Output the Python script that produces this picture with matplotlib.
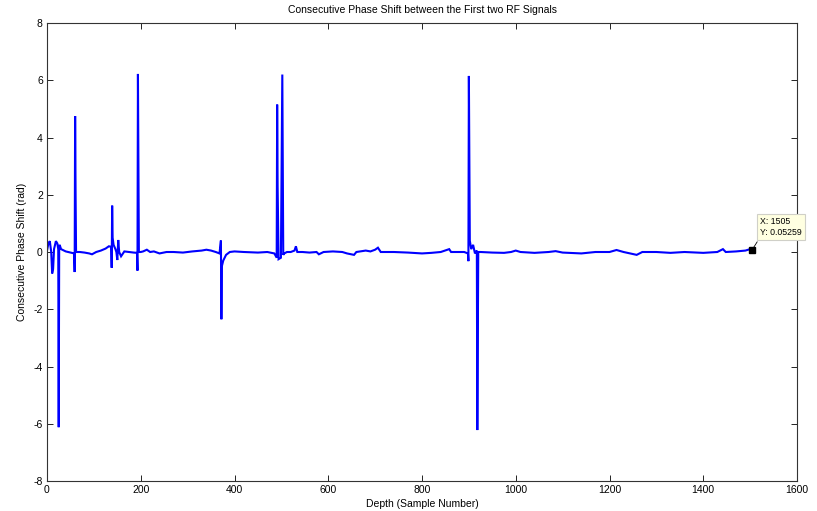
import numpy as np
import matplotlib
matplotlib.use('Agg')
import matplotlib.pyplot as plt

# vertices of the phase-shift trace
depth = [0, 3, 6, 9, 11, 13, 15, 19, 22, 24, 25, 26, 27, 30, 40, 50, 58, 59, 60, 61, 62,
         70, 80, 90, 96, 105, 115, 125, 132, 137, 138, 139, 140, 142, 146, 148, 150, 152,
         154, 158, 165, 175, 185, 192, 193, 194, 195, 196, 200, 205, 213, 220, 228, 240,
         255, 270, 290, 310, 330, 340, 350, 360, 368, 371, 372, 373, 376, 382, 390, 400,
         420, 450, 470, 485, 490, 491, 492, 494, 499, 502, 503, 504, 506, 512, 520, 528,
         531, 534, 545, 560, 575, 580, 590, 610, 630, 640, 655, 660, 680, 690, 700, 706,
         712, 740, 770, 800, 820, 840, 858, 862, 890, 898, 899, 900, 901, 902, 905, 909,
         913, 917, 918, 919, 920, 925, 950, 975, 990, 1000, 1010, 1040, 1070, 1085, 1100,
         1140, 1170, 1200, 1215, 1230, 1258, 1270, 1300, 1330, 1360, 1400, 1430, 1442,
         1448, 1470, 1490, 1500, 1505]
phase = [0.05, 0.3, 0.38, 0.0, -0.75, -0.6, 0.1, 0.38, 0.3, 0.1, -6.12, 0.2, 0.25, 0.1,
         0.02, -0.02, -0.05, -0.7, 4.75, 2.0, 0.0,
         0.0, -0.02, -0.05, -0.08, 0.0, 0.05, 0.12, 0.2, 0.18, -0.55, 1.62, 0.5, 0.25, 0.1,
         0.0, -0.28, 0.42,
         0.0, -0.15, 0.02, 0.0, -0.02, -0.03, -0.65, 6.22, 3.05, 0.0, 0.0, 0.02, 0.08, 0.0,
         0.02, -0.05,
         0.0, 0.0, -0.02, 0.02, 0.05, 0.08, 0.05, 0.0, -0.05, 0.4, -2.35, -0.5, -0.3, -0.1,
         0.0, 0.02,
         0.0, -0.02, 0.0, -0.05, -0.2, 5.15, 2.3, -0.25, -0.2, 6.2, 3.0, -0.1, -0.05, 0.0,
         0.0, 0.05,
         0.2, 0.0, 0.0, -0.02, 0.0, -0.08, 0.0, 0.02, 0.0, -0.05, -0.1, 0.0, 0.05, 0.02,
         0.08, 0.15,
         0.0, 0.0, -0.02, -0.05, -0.03, 0.0, 0.1, 0.0, 0.0, -0.05, -0.32, 6.15, 2.95, 0.4,
         0.1, 0.25,
         -0.05, 0.05, -6.22, -3.05, 0.0, 0.0, -0.02, -0.03, 0.0, 0.05, 0.0, -0.03, 0.0,
         0.03, -0.02,
         -0.05, 0.0, 0.0, 0.07, 0.0, -0.1, 0.0, 0.0, -0.03, 0.0, -0.03, 0.0, 0.1,
         0.0, 0.02, 0.05, 0.1, 0.05259]

tip_x = 1505
tip_y = 0.05259

xticks = np.arange(0, 1601, 200)
yticks = np.arange(-8, 9, 2)

plt.rcParams['font.family'] = 'Liberation Sans'
plt.rcParams['axes.unicode_minus'] = False

fig = plt.figure(figsize=(8.17, 5.11), dpi=100)
ax = fig.add_axes([47/817, 30/511, 750/817, 458/511])

ax.plot(depth, phase, color=(0, 0, 1), linewidth=1.5, solid_joinstyle='miter')

# data tip
ax.plot(tip_x, tip_y, 's', color='black', markersize=4.5, zorder=5)
ax.plot([tip_x + 3, tip_x + 10], [tip_y + 0.12, tip_y + 0.3], color='black', lw=0.6)
ax.text(tip_x + 16, tip_y + 0.82, 'X: %d\nY: %.5f' % (tip_x, tip_y), fontsize=6.3,
        ha='left', va='center', linespacing=1.3, clip_on=False, zorder=6,
        bbox=dict(boxstyle='square,pad=0.35', fc='#FFFFE1', ec='#D0D0C8', lw=0.8))

ax.set_xlim(0, 1600)
ax.set_ylim(-8, 8)
ax.set_xticks(xticks)
ax.set_yticks(yticks)
ax.tick_params(direction='in', top=True, right=True, length=4, width=0.6,
               labelsize=7.5, pad=3)
for s in ax.spines.values():
    s.set_linewidth(0.8)
    s.set_color('#333333')

ax.set_title('Consecutive Phase Shift between the First two RF Signals', fontsize=7.5, pad=7)
ax.set_xlabel('Depth (Sample Number)', fontsize=7.5, labelpad=3)
ax.set_ylabel('Consecutive Phase Shift (rad)', fontsize=7.5, labelpad=5)

fig.savefig('out.png', dpi=100)
